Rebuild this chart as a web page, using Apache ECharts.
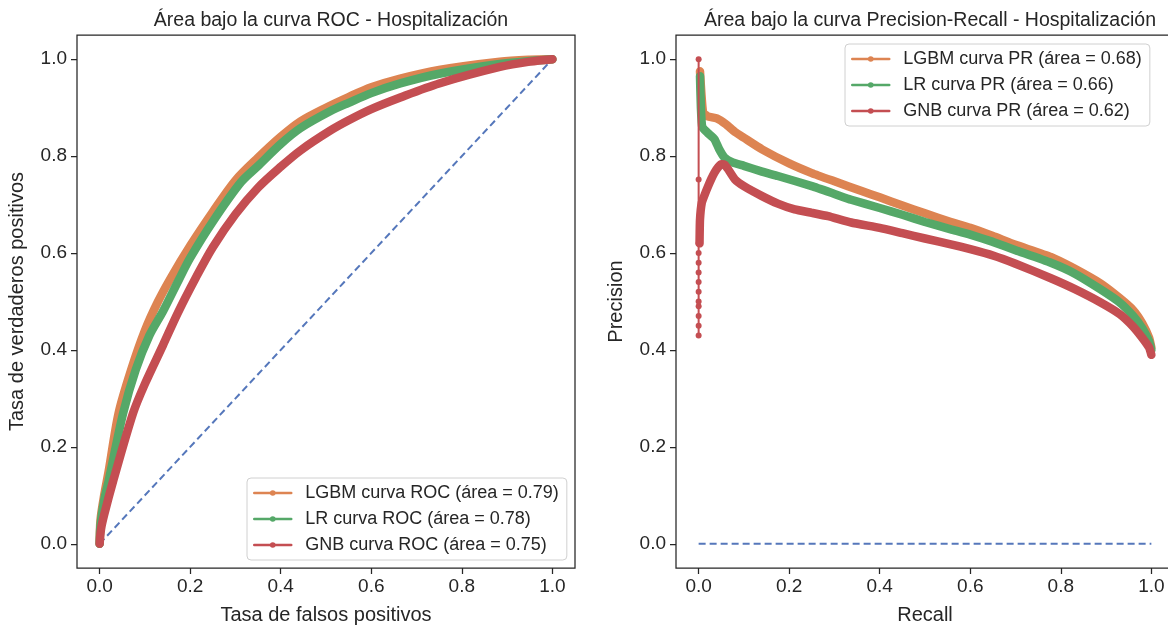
<!DOCTYPE html>
<html><head><meta charset="utf-8">
<script src="https://cdn.jsdelivr.net/npm/echarts@6/dist/echarts.min.js"></script>
<style>html,body{margin:0;padding:0;background:#fff}#c{width:1168px;height:625px}</style>
</head><body><div id="c"></div>
<script>
// ---------- data ----------
const tickValues = [0, 0.2, 0.4, 0.6, 0.8, 1.0];
const rocNames = ['LGBM curva ROC (área = 0.79)', 'LR curva ROC (área = 0.78)', 'GNB curva ROC (área = 0.75)'];
const prNames = ['LGBM curva PR (área = 0.68)', 'LR curva PR (área = 0.66)', 'GNB curva PR (área = 0.62)'];

const rocLGBM = [[0,0],[0.002,0.05],[0.01,0.1],[0.02,0.15],[0.042,0.27],[0.07,0.36],[0.1,0.44],[0.129,0.5],[0.158,0.55],[0.2,0.615],[0.25,0.685],[0.3,0.75],[0.35,0.797],[0.4,0.84],[0.444,0.872],[0.5,0.9],[0.55,0.922],[0.6,0.942],[0.664,0.96],[0.75,0.978],[0.884,0.995],[0.95,0.999],[1,1]];
const rocLR = [[0,0],[0.002,0.04],[0.01,0.09],[0.02,0.13],[0.052,0.27],[0.08,0.36],[0.11,0.43],[0.14,0.48],[0.175,0.545],[0.2,0.59],[0.25,0.665],[0.312,0.746],[0.35,0.78],[0.4,0.825],[0.444,0.858],[0.51,0.893],[0.55,0.91],[0.6,0.93],[0.664,0.95],[0.75,0.97],[0.884,0.99],[1,1]];
const rocGNB = [[0,0],[0.003,0.03],[0.01,0.06],[0.03,0.13],[0.074,0.27],[0.1,0.33],[0.14,0.41],[0.173,0.477],[0.213,0.55],[0.25,0.612],[0.3,0.68],[0.35,0.735],[0.4,0.778],[0.444,0.812],[0.51,0.853],[0.55,0.874],[0.6,0.897],[0.664,0.921],[0.75,0.95],[0.884,0.984],[0.95,0.995],[1,1]];
const rocDiag = [[0,0],[1,1]];

const prLGBM = [[0.003,0.975],[0.006,0.93],[0.01,0.89],[0.02,0.882],[0.04,0.878],[0.06,0.866],[0.08,0.85],[0.1,0.838],[0.14,0.814],[0.2,0.785],[0.25,0.765],[0.3,0.748],[0.36,0.728],[0.4,0.715],[0.45,0.698],[0.5,0.682],[0.557,0.664],[0.6,0.652],[0.65,0.635],[0.7,0.617],[0.778,0.592],[0.83,0.568],[0.888,0.537],[0.93,0.507],[0.96,0.482],[0.98,0.455],[0.995,0.425],[1.0,0.405]];
const prLR = [[0.003,0.965],[0.005,0.9],[0.008,0.86],[0.02,0.848],[0.035,0.835],[0.045,0.815],[0.057,0.797],[0.075,0.787],[0.1,0.78],[0.14,0.768],[0.175,0.759],[0.25,0.738],[0.3,0.722],[0.337,0.71],[0.4,0.693],[0.45,0.679],[0.5,0.664],[0.557,0.649],[0.6,0.638],[0.65,0.623],[0.7,0.606],[0.778,0.58],[0.83,0.558],[0.888,0.525],[0.93,0.498],[0.96,0.47],[0.98,0.445],[0.995,0.418],[1.0,0.4]];
const prGNB = [[0.002,0.62],[0.003,0.669],[0.007,0.704],[0.014,0.722],[0.021,0.738],[0.028,0.753],[0.035,0.766],[0.043,0.777],[0.05,0.783],[0.058,0.782],[0.065,0.773],[0.08,0.752],[0.1,0.738],[0.139,0.718],[0.175,0.702],[0.212,0.69],[0.25,0.683],[0.286,0.676],[0.337,0.663],[0.4,0.652],[0.45,0.641],[0.5,0.63],[0.557,0.618],[0.6,0.608],[0.65,0.595],[0.7,0.578],[0.778,0.548],[0.83,0.526],[0.888,0.498],[0.93,0.474],[0.96,0.448],[0.98,0.425],[0.995,0.405],[1.0,0.39]];
const prGNBSpike = [[0,1.0],[0,0.752],[0,0.43],[0,0.45],[0,0.47],[0,0.49],[0,0.5],[0,0.52],[0,0.54],[0,0.56],[0,0.58],[0,0.6],[0,0.62]];
const prBase = [[0,0],[1,0]];

// ---------- style ----------
const colors = ['#DD8452', '#55A868', '#C44E52'];
const dashColor = '#5577bb';
const ink = '#262626';
const font = "'Liberation Sans', Arial, sans-serif";

function axis(gridIndex, name, isY) {
  return {
    type: 'value', gridIndex, min: -0.05, max: 1.05,
    name, nameLocation: 'middle', nameGap: isY ? 50 : 37,
    nameTextStyle: { color: ink, fontSize: 20, fontFamily: font },
    splitLine: { show: false },
    axisLine: { show: false, onZero: false },
    axisTick: { show: true, inside: false, length: 6, lineStyle: { color: ink, width: 1.25 }, customValues: tickValues },
    axisLabel: { show: true, color: ink, fontSize: 19, fontFamily: font, margin: isY ? 10 : 9, customValues: tickValues, formatter: v => v.toFixed(1) }
  };
}
function curve(name, data, color, xi, smooth) {
  return { type: 'line', name, data, xAxisIndex: xi, yAxisIndex: xi, symbol: 'circle', showSymbol: false, symbolSize: 6,
    smooth,
    lineStyle: { color, width: 8.5, cap: 'round', join: 'round' }, itemStyle: { color }, silent: true, clip: true };
}
function legend(left, top, names) {
  return { data: names, left, top, orient: 'vertical', itemWidth: 37, itemHeight: 7, itemGap: 8,
    padding: [6, 8, 6, 6], borderColor: '#d0d0d0', borderWidth: 1, borderRadius: 4, backgroundColor: '#fff',
    lineStyle: { width: 2.5 },
    textStyle: { color: ink, fontSize: 18, fontFamily: font, padding: [0, 0, 0, 9] } };
}

const option = {
  animation: false,
  title: [
    { text: 'Área bajo la curva ROC - Hospitalización', left: 326, top: 6, textAlign: 'center', textStyle: { color: ink, fontSize: 19.5, fontWeight: 'normal', fontFamily: font } },
    { text: 'Área bajo la curva Precision-Recall - Hospitalización', left: 925, top: 6, textAlign: 'center', textStyle: { color: ink, fontSize: 19.5, fontWeight: 'normal', fontFamily: font } }
  ],
  grid: [
    { left: 77, top: 35, width: 498, height: 533, outerBoundsMode: 'none', containLabel: false, show: true, borderColor: ink, borderWidth: 1.25, backgroundColor: '#fff' },
    { left: 676, top: 35, width: 498, height: 533, outerBoundsMode: 'none', containLabel: false, show: true, borderColor: ink, borderWidth: 1.25, backgroundColor: '#fff' }
  ],
  xAxis: [axis(0, 'Tasa de falsos positivos', false), axis(1, 'Recall', false)],
  yAxis: [axis(0, 'Tasa de verdaderos positivos', true), axis(1, 'Precision', true)],
  legend: [legend(247, 478, rocNames), legend(845, 44, prNames)],
  series: [
    { type: 'line', data: rocDiag, xAxisIndex: 0, yAxisIndex: 0, symbol: 'none', silent: true, lineStyle: { color: dashColor, width: 2, type: [7, 4] } },
    curve(rocNames[0], rocLGBM, colors[0], 0, 0.3),
    curve(rocNames[1], rocLR, colors[1], 0, 0.3),
    curve(rocNames[2], rocGNB, colors[2], 0, 0.3),
    { type: 'line', data: prBase, xAxisIndex: 1, yAxisIndex: 1, symbol: 'none', silent: true, lineStyle: { color: dashColor, width: 2, type: [7, 4] } },
    curve(prNames[0], prLGBM, colors[0], 1, 0.15),
    curve(prNames[1], prLR, colors[1], 1, 0.15),
    curve(prNames[2], prGNB, colors[2], 1, 0.15),
    { type: 'line', data: prGNBSpike, xAxisIndex: 1, yAxisIndex: 1, symbol: 'circle', symbolSize: 6, showAllSymbol: true, silent: true,
      lineStyle: { color: colors[2], width: 2 }, itemStyle: { color: colors[2] } }
  ]
};
const chart = echarts.init(document.getElementById('c'), null, { renderer: 'canvas' });
chart.setOption(option);
</script></body></html>
